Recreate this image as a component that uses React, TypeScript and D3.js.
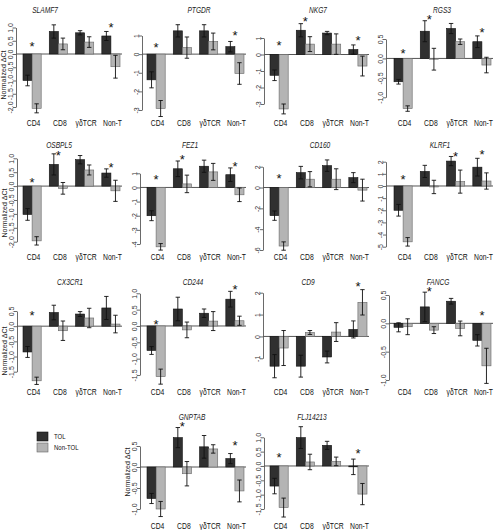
import * as d3 from "d3";
import { useEffect, useRef } from "react";

const groups = ["CD4", "CD8", "γδTCR", "Non-T"];
const seriesNames = ["TOL", "Non-TOL"];

const genes = [
  "SLAMF7", "PTGDR", "NKG7", "RGS3",
  "OSBPL5", "FEZ1", "CD160", "KLRF1",
  "CX3CR1", "CD244", "CD9", "FANCG",
  "GNPTAB", "FLJ14213",
];

// mean normalized dCt per gene, one value per cell group
const tolMean = [
  [-1.0, 0.85, 0.8, 0.68],
  [-1.38, 1.25, 1.25, 0.4],
  [-1.26, 1.47, 1.3, 0.3],
  [-0.6, 0.7, 0.77, 0.43],
  [-1.02, 0.78, 0.95, 0.47],
  [-2.0, 1.32, 1.5, 0.9],
  [-2.7, 1.43, 2.1, 0.95],
  [-2.0, 1.2, 2.05, 1.55],
  [-0.85, 0.45, 0.4, 0.6],
  [-0.75, 0.52, 0.39, 0.82],
  [-1.36, -1.36, -0.94, 0.32],
  [-0.07, 0.29, 0.39, -0.3],
  [-0.75, 0.7, 0.48, 0.2],
  [-0.7, 0.99, 0.72, -0.03],
];
const tolErr = [
  [0.2, 0.25, 0.08, 0.17],
  [0.43, 0.33, 0.33, 0.28],
  [0.32, 0.4, 0.1, 0.28],
  [0.06, 0.27, 0.13, 0.15],
  [0.21, 0.38, 0.15, 0.15],
  [0.35, 0.55, 0.43, 0.48],
  [0.45, 0.6, 0.55, 0.48],
  [0.48, 0.5, 0.38, 0.73],
  [0.18, 0.24, 0.08, 0.38],
  [0.12, 0.36, 0.13, 0.24],
  [0.53, 0.5, 0.27, 0.39],
  [0.08, 0.26, 0.05, 0.1],
  [0.12, 0.24, 0.27, 0.12],
  [0.27, 0.38, 0.14, 0.27],
];
const nonTolMean = [
  [-2.05, 0.38, 0.45, -0.48],
  [-2.92, 0.35, 0.68, -1.04],
  [-3.3, 0.63, 0.63, -0.7],
  [-1.29, -0.02, 0.43, -0.17],
  [-1.97, -0.08, 0.58, -0.17],
  [-4.2, 0.25, 1.1, -0.52],
  [-5.62, 0.8, 0.8, -0.25],
  [-4.6, -0.08, 0.36, 0.41],
  [-1.8, -0.15, 0.27, 0.07],
  [-1.55, -0.12, 0.15, 0.16],
  [-0.53, 0.18, 0.2, 1.56],
  [-0.06, -0.12, -0.09, -0.75],
  [-1.0, -0.16, 0.43, -0.57],
  [-1.45, 0.14, 0.16, -0.98],
];
const nonTolErr = [
  [0.17, 0.22, 0.2, 0.43],
  [0.43, 0.57, 0.45, 0.58],
  [0.3, 0.45, 0.62, 0.6],
  [0.07, 0.28, 0.07, 0.2],
  [0.15, 0.21, 0.18, 0.38],
  [0.23, 0.62, 0.6, 0.48],
  [0.4, 0.73, 1.0, 1.05],
  [0.35, 0.55, 0.95, 0.67],
  [0.12, 0.32, 0.32, 0.29],
  [0.23, 0.24, 0.29, 0.14],
  [0.8, 0.09, 0.43, 0.58],
  [0.14, 0.06, 0.13, 0.31],
  [0.18, 0.29, 0.1, 0.26],
  [0.33, 0.27, 0.15, 0.37],
];
// groups marked significant (*) and the height (in dCt units) the star sits at
const starGroups = [
  [0, 3], [0, 3], [0, 1, 3], [0, 1, 3],
  [0, 1, 3], [0, 1, 3], [0], [0, 2, 3],
  [0], [0, 3], [3], [1, 3],
  [1, 3], [0, 3],
];
const starAt = [
  [0.38, 1.09], [0.49, 1.13], [0.7, 2.15, 1.0], [0.2, 1.07, 0.73],
  [0.22, 1.19, 0.76], [0.76, 2.17, 1.71], [1.1], [0.77, 2.69, 2.83],
  [0.43], [0.12, 1.2], [2.43], [0.62, 0.18],
  [1.02, 0.59], [0.38, 0.52],
];
// y tick range per panel: [lowest, highest, step]
const yTicks = [
  [-2, 1, 0.5], [-3, 1, 1], [-3, 1, 1], [-1, 0.5, 0.5],
  [-2, 1, 0.5], [-4, 1, 1], [-6, 2, 2], [-5, 2, 1],
  [-1.5, 0.5, 0.5], [-1.5, 1, 0.5], [-1, 2, 1], [-1, 0.5, 0.5],
  [-1, 0.5, 0.5], [-1.5, 1, 0.5],
];

// layout (pixels)
const colStart = [23, 147, 270, 394];
const groupSpan = 97;
const panelLayout = [
  { col: 0, row: 0, py: [107, 27.5], axisX: 16, titleX: 45 },
  { col: 1, row: 0, py: [110, 35.5], axisX: 142, titleX: 199 },
  { col: 2, row: 0, py: [104, 38], axisX: 264, titleX: 318 },
  { col: 3, row: 0, py: [97.3, 39], axisX: 386, titleX: 442 },
  { col: 0, row: 1, py: [241.7, 158.3], axisX: 17, titleX: 59 },
  { col: 1, row: 1, py: [244, 173.3], axisX: 140, titleX: 190 },
  { col: 2, row: 1, py: [250, 166.7], axisX: 263, titleX: 320 },
  { col: 3, row: 1, py: [246.7, 161.7], axisX: 386, titleX: 440 },
  { col: 0, row: 2, py: [371.7, 311], axisX: 17, titleX: 70 },
  { col: 1, row: 2, py: [375, 293.3], axisX: 140, titleX: 193 },
  { col: 2, row: 2, py: [358.3, 292.7], axisX: 263, titleX: 308 },
  { col: 3, row: 2, py: [380, 295], axisX: 389, titleX: 438 },
  { col: 1, row: 3, py: [509, 446], axisX: 140, titleX: 192 },
  { col: 2, row: 3, py: [509, 437.3], axisX: 264, titleX: 312 },
];
const rowTitleY = [13, 147.5, 284.5, 419.5];
const rowLabelY = [126, 260, 395, 528.5];
const rowYlabY = [75, 213, 351, 472];

const FONT = "'Liberation Sans', Arial, Helvetica, sans-serif";
const DARK = "#303030";
const LIGHT = "#b4b4b4";

export default function App() {
  const ref = useRef<SVGSVGElement>(null);

  useEffect(() => {
    const svg = d3.select(ref.current);
    svg.selectAll("*").remove();

    genes.forEach((gene, i) => {
      const L = panelLayout[i];
      const [lo, hi, step] = yTicks[i];
      const g = svg.append("g").attr("class", "panel");
      const x0 = colStart[L.col];

      const x = d3.scaleBand().domain(groups).range([x0, x0 + groupSpan]).paddingInner(0.3077).paddingOuter(0);
      const xs = d3.scaleBand().domain(seriesNames).range([0, x.bandwidth()]);
      const y = d3.scaleLinear().domain([lo, hi]).range(L.py);

      const ticks = d3.range(Math.round((hi - lo) / step) + 1).map((k) => +(lo + k * step).toFixed(2));
      const fmt = (v: number) => (step < 1 ? v.toFixed(1) : String(v));

      // y axis
      const ax = g
        .append("g")
        .attr("transform", `translate(${L.axisX},0)`)
        .call(d3.axisLeft(y).tickValues(ticks).tickFormat(fmt as any).tickSize(3).tickSizeOuter(0));
      ax.attr("font-family", FONT).attr("font-size", 7);
      ax.select(".domain").attr("stroke", "#444").attr("stroke-width", 0.8);
      ax.selectAll(".tick line").attr("stroke", "#444").attr("stroke-width", 0.8);
      ax.selectAll(".tick text")
        .attr("x", 0)
        .attr("y", 0)
        .attr("dy", null)
        .attr("fill", "#333")
        .attr("text-anchor", "middle")
        .attr("transform", "translate(-3.5,0) rotate(-90)");

      // zero line
      g.append("line")
        .attr("x1", L.axisX)
        .attr("x2", x0 + groupSpan + 2)
        .attr("y1", y(0))
        .attr("y2", y(0))
        .attr("stroke", "#555")
        .attr("stroke-width", 1);

      const rows = groups.flatMap((grp, gi) => [
        { grp, s: "TOL", v: tolMean[i][gi], e: tolErr[i][gi] },
        { grp, s: "Non-TOL", v: nonTolMean[i][gi], e: nonTolErr[i][gi] },
      ]);

      g.append("g")
        .selectAll("rect")
        .data(rows)
        .join("rect")
        .attr("x", (d) => x(d.grp)! + xs(d.s)!)
        .attr("width", xs.bandwidth())
        .attr("y", (d) => Math.min(y(d.v), y(0)))
        .attr("height", (d) => Math.abs(y(d.v) - y(0)))
        .attr("fill", (d) => (d.s === "TOL" ? DARK : LIGHT))
        .attr("stroke", (d) => (d.s === "TOL" ? "#111" : "#666"))
        .attr("stroke-width", 0.6);

      // error bars
      const eb = g.append("g").attr("stroke", "#111").attr("stroke-width", 0.9);
      rows.forEach((d) => {
        const cx = x(d.grp)! + xs(d.s)! + xs.bandwidth() / 2;
        eb.append("line").attr("x1", cx).attr("x2", cx).attr("y1", y(d.v - d.e)).attr("y2", y(d.v + d.e));
        [d.v - d.e, d.v + d.e].forEach((yy) => {
          eb.append("line").attr("x1", cx - 2.2).attr("x2", cx + 2.2).attr("y1", y(yy)).attr("y2", y(yy));
        });
      });

      // significance stars
      starGroups[i].forEach((gi, k) => {
        g.append("text")
          .attr("x", x(groups[gi])! + x.bandwidth() / 2)
          .attr("y", y(starAt[i][k]) + 7.3)
          .attr("text-anchor", "middle")
          .attr("font-family", FONT)
          .attr("font-size", 13)
          .attr("fill", "#111")
          .text("*");
      });

      // title
      g.append("text")
        .attr("transform", `translate(${L.titleX},${rowTitleY[L.row]}) scale(0.78,1)`)
        .attr("text-anchor", "middle")
        .attr("font-family", FONT)
        .attr("font-style", "italic")
        .attr("font-size", 8.5)
        .attr("fill", "#222")
        .text(gene);

      // category labels
      groups.forEach((grp) => {
        g.append("text")
          .attr("transform", `translate(${x(grp)! + x.bandwidth() / 2 + 1.5},${rowLabelY[L.row]}) scale(0.8,1)`)
          .attr("text-anchor", "middle")
          .attr("font-family", FONT)
          .attr("font-size", 8.5)
          .attr("fill", "#111")
          .text(grp);
      });

      // y label on first panel of each row
      if (i === 0 || i === 4 || i === 8 || i === 12) {
        g.append("text")
          .attr("transform", `translate(${L.axisX - 10.5},${rowYlabY[L.row]}) rotate(-90)`)
          .attr("text-anchor", "middle")
          .attr("font-family", FONT)
          .attr("font-size", 7)
          .attr("fill", "#222")
          .text("Normalized ΔCt");
      }
    });

    // legend
    const lg = svg.append("g").attr("transform", "translate(37,432)");
    seriesNames.forEach((s, k) => {
      lg.append("rect")
        .attr("x", 0)
        .attr("y", k * 11)
        .attr("width", 11)
        .attr("height", 9)
        .attr("fill", k === 0 ? DARK : LIGHT)
        .attr("stroke", k === 0 ? "#111" : "#666")
        .attr("stroke-width", 0.6);
      lg.append("text")
        .attr("transform", `translate(17,${k * 11 + 7}) scale(0.75,1)`)
        .attr("font-family", FONT)
        .attr("font-size", 8)
        .attr("fill", "#111")
        .text(s);
    });
  }, []);

  return (
    <svg
      ref={ref}
      width={496}
      height={530}
      style={{ position: "absolute", left: 0, top: 0, background: "#fff" }}
    />
  );
}
